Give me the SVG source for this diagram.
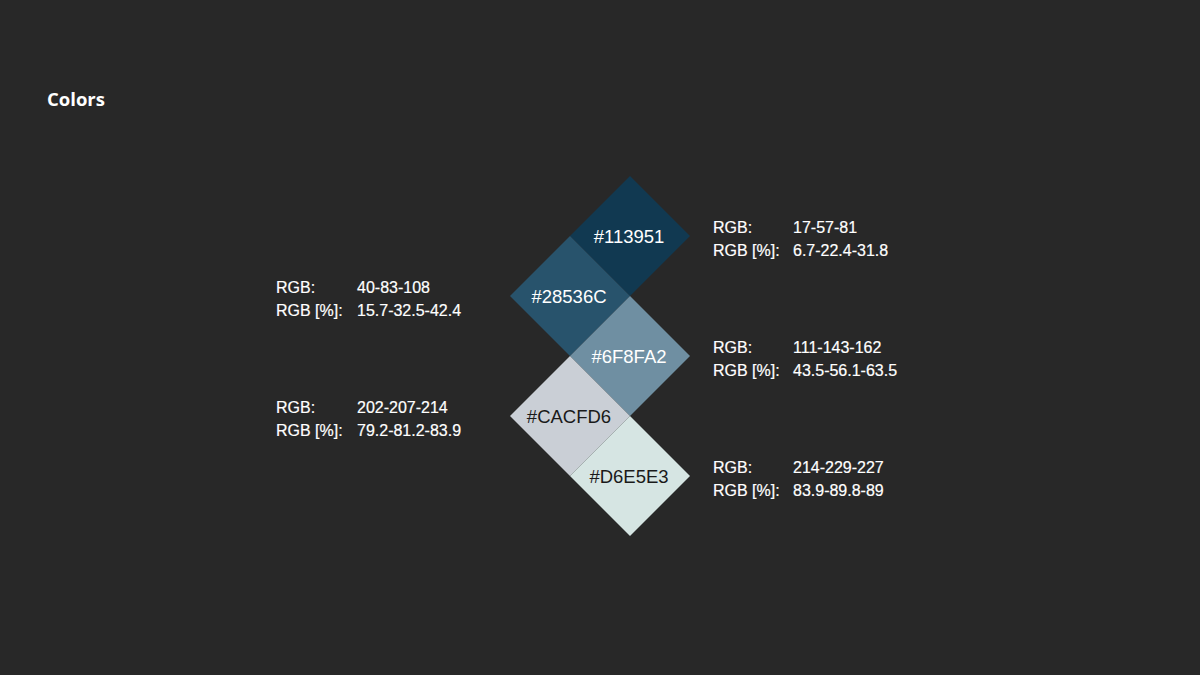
<svg xmlns="http://www.w3.org/2000/svg" width="1200" height="675" viewBox="0 0 1200 675">
  <style>
    .title { font-family: "Open Sans", "Liberation Sans", sans-serif; font-weight: 700; font-size: 18.5px; fill: #ffffff; }
    .hex { font-family: "Liberation Sans", Arial, sans-serif; font-size: 18.5px; text-anchor: middle; }
    .light { fill: #ffffff; }
    .dark { fill: #1a1a1a; }
    .info { font-family: "Liberation Sans", Arial, sans-serif; font-size: 16px; fill: #ffffff; stroke: #ffffff; stroke-width: 0.2px; }
  </style>
  <rect width="1200" height="675" fill="#282828"/>
  <text class="title" x="47" y="106">Colors</text>

  <g id="swatch-113951">
    <polygon points="630,176 690,236 630,296 570,236" fill="#113951"/>
    <text class="hex light" x="629" y="243">#113951</text>
  </g>
  <g id="swatch-28536C">
    <polygon points="570,236 630,296 570,356 510,296" fill="#28536C"/>
    <text class="hex light" x="569" y="303">#28536C</text>
  </g>
  <g id="swatch-6F8FA2">
    <polygon points="630,296 690,356 630,416 570,356" fill="#6F8FA2"/>
    <text class="hex light" x="629" y="363">#6F8FA2</text>
  </g>
  <g id="swatch-CACFD6">
    <polygon points="570,356 630,416 570,476 510,416" fill="#CACFD6"/>
    <text class="hex dark" x="569" y="423">#CACFD6</text>
  </g>
  <g id="swatch-D6E5E3">
    <polygon points="630,416 690,476 630,536 570,476" fill="#D6E5E3"/>
    <text class="hex dark" x="629" y="483">#D6E5E3</text>
  </g>

  <g id="info-113951" class="info">
    <text x="713" y="233">RGB:</text><text x="793" y="233">17-57-81</text>
    <text x="713" y="256">RGB [%]:</text><text x="793" y="256">6.7-22.4-31.8</text>
  </g>
  <g id="info-28536C" class="info">
    <text x="276" y="293">RGB:</text><text x="357" y="293">40-83-108</text>
    <text x="276" y="316">RGB [%]:</text><text x="357" y="316">15.7-32.5-42.4</text>
  </g>
  <g id="info-6F8FA2" class="info">
    <text x="713" y="353">RGB:</text><text x="793" y="353">111-143-162</text>
    <text x="713" y="376">RGB [%]:</text><text x="793" y="376">43.5-56.1-63.5</text>
  </g>
  <g id="info-CACFD6" class="info">
    <text x="276" y="413">RGB:</text><text x="357" y="413">202-207-214</text>
    <text x="276" y="436">RGB [%]:</text><text x="357" y="436">79.2-81.2-83.9</text>
  </g>
  <g id="info-D6E5E3" class="info">
    <text x="713" y="473">RGB:</text><text x="793" y="473">214-229-227</text>
    <text x="713" y="496">RGB [%]:</text><text x="793" y="496">83.9-89.8-89</text>
  </g>
</svg>
